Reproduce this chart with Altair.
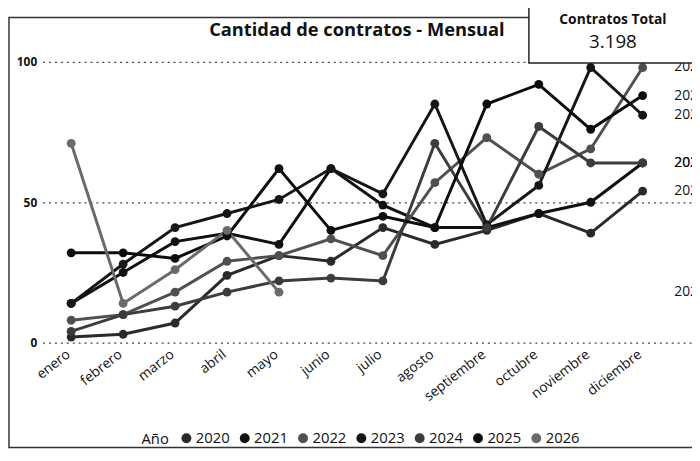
import json
import altair as alt
import pandas as pd

months = ["enero", "febrero", "marzo", "abril", "mayo", "junio", "julio",
          "agosto", "septiembre", "octubre", "noviembre", "diciembre"]
years = ["2020", "2021", "2022", "2023", "2024", "2025", "2026"]

v2020 = [2, 3, 7, 24, 31, 29, 41, 35, 40, 46, 39, 54]
v2021 = [14, 25, 36, 39, 35, 62, 49, 41, 41, 46, 50, 64]
v2022 = [8, 10, 18, 29, 31, 37, 31, 57, 73, 60, 69, 98]
v2023 = [14, 28, 41, 46, 51, 62, 53, 85, 42, 56, 98, 81]
v2024 = [4, 10, 13, 18, 22, 23, 22, 71, 41, 77, 64, 64]
v2025 = [32, 32, 30, 38, 62, 40, 45, 41, 85, 92, 76, 88]
v2026 = [71, 14, 26, 40, 18]

colors = ["#2a2a2a", "#111111", "#505050", "#161616", "#3c3c3c", "#0c0c0c", "#6a6a6a"]

title_text = "Cantidad de contratos - Mensual"
card_title = "Contratos Total"
card_value = "3.198"

series = [v2020, v2021, v2022, v2023, v2024, v2025, v2026]
rows = []
for yr, vals in zip(years, series):
    for i, v in enumerate(vals):
        rows.append({"Año": yr, "idx": i, "mes": months[i], "valor": v})
df = pd.DataFrame(rows)

last = df.groupby("Año").tail(1).copy()
last["idx"] = 11

FONT = "Open Sans"

xscale = alt.Scale(domain=[-0.55, 11.95], nice=False, zero=False)
yscale = alt.Scale(domain=[-2.11, 104.2], nice=False, zero=False)
cscale = alt.Scale(domain=years, range=colors)

xaxis = alt.Axis(values=list(range(12)),
                 labelExpr=json.dumps(months) + "[datum.value]",
                 title=None, domain=False, ticks=False, grid=False,
                 labelAngle=322, labelAlign="right", labelBaseline="middle",
                 labelPadding=4, labelOffset=-3, labelOverlap=False,
                 labelFontSize=14, labelColor="#111", labelFont=FONT,
                 labelBound=False)
yaxis = alt.Axis(values=[0, 50, 100], title=None, domain=False, ticks=False,
                 grid=True, gridDash=[2, 4], gridColor="#444", gridWidth=1.2,
                 labelFontSize=12, labelFontWeight="bold", labelColor="#111",
                 labelPadding=6, labelFont=FONT)

legend = alt.Legend(
    title="Año", orient="none", legendX=100, legendY=385,
    direction="horizontal", titleOrient="left", symbolType="circle",
    symbolSize=100, symbolStrokeWidth=0, labelFontSize=15, titleFontSize=15,
    titleFontWeight="normal", labelFont=FONT, titleFont=FONT,
    labelColor="#111", titleColor="#111", columnPadding=7,
    labelOffset=2, titlePadding=10)

base = alt.Chart(df)

lines = base.mark_line(strokeWidth=3).encode(
    x=alt.X("idx:Q", scale=xscale, axis=xaxis),
    y=alt.Y("valor:Q", scale=yscale, axis=yaxis),
    color=alt.Color("Año:N", scale=cscale, legend=legend),
    detail="Año:N",
)

points = base.mark_circle(size=80, opacity=1).encode(
    x=alt.X("idx:Q", scale=xscale),
    y=alt.Y("valor:Q", scale=yscale),
    color=alt.Color("Año:N", scale=cscale, legend=legend),
)

end_labels = alt.Chart(last).mark_text(
    align="left", baseline="middle", dx=32, fontSize=14, font=FONT,
    color="#111").encode(
    x=alt.X("idx:Q", scale=xscale),
    y=alt.Y("valor:Q", scale=yscale),
    text="Año:N",
)

one = pd.DataFrame({"k": [0]})

frame = alt.Chart(one).mark_rect(fill=None, stroke="#333", strokeWidth=1.5).encode(
    x=alt.value(-34), x2=alt.value(700), y=alt.value(-33), y2=alt.value(402))

title = alt.Chart(one).mark_text(
    text=title_text, font=FONT, fontSize=18.5, fontWeight="bold",
    align="center", baseline="middle", color="#111").encode(
    x=alt.value(318), y=alt.value(-20))

card = alt.Chart(one).mark_rect(fill="white", stroke="#222", strokeWidth=1.5).encode(
    x=alt.value(492), x2=alt.value(700), y=alt.value(-80), y2=alt.value(13))

card_t = alt.Chart(one).mark_text(
    text=card_title, font=FONT, fontSize=14, fontWeight="bold",
    align="center", baseline="middle", color="#111").encode(
    x=alt.value(577), y=alt.value(-30))

card_v = alt.Chart(one).mark_text(
    text=card_value, font=FONT, fontSize=19,
    align="center", baseline="middle", color="#111").encode(
    x=alt.value(577), y=alt.value(-8))

chart = alt.layer(frame, lines, points, end_labels, title, card, card_t, card_v).properties(
    width=657, height=302,
    padding={"left": 35, "top": 40, "right": 0, "bottom": 102},
    autosize=alt.AutoSizeParams(type="none"),
    background="white",
).configure_view(stroke=None)

chart.save("out.html", embed_options={"renderer": "svg", "actions": False})
